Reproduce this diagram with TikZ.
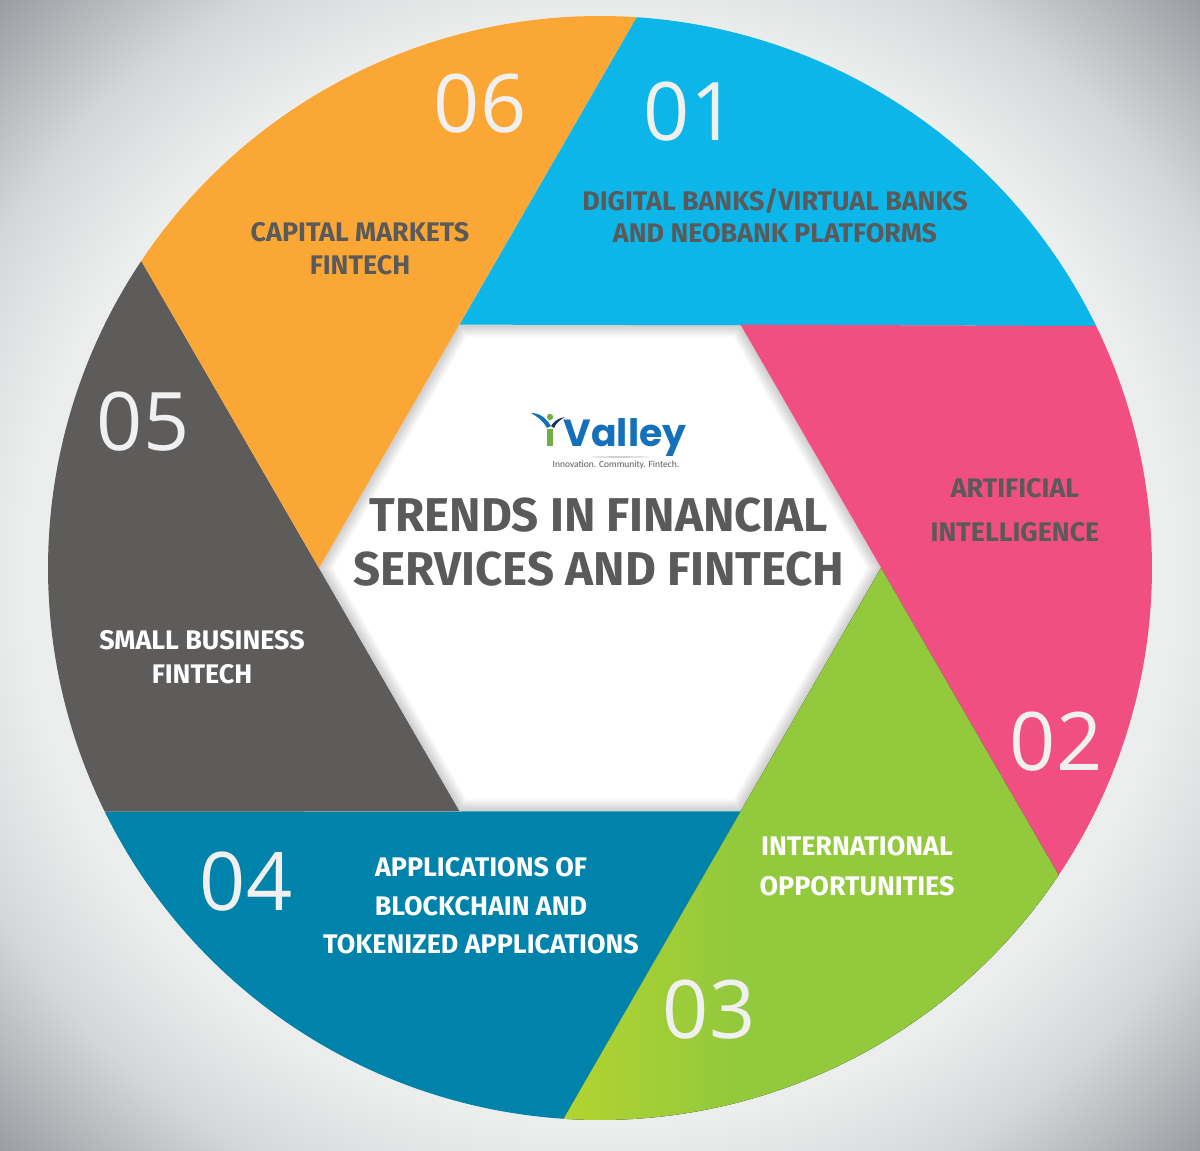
\documentclass[tikz,border=0pt]{standalone}
\usepackage{fontspec}
\setmainfont{Fira Sans}
\newfontfamily\numfont{Open Sans}
\newfontfamily\logofont{Poppins}
\newfontfamily\tagfont{Carlito}
\usetikzlibrary{positioning}
\definecolor{bankblue}{HTML}{0DB6E8}
\definecolor{aipink}{HTML}{F14E82}
\definecolor{tradegreen}{HTML}{93C93C}
\definecolor{tradeyellow}{HTML}{B2D430}
\definecolor{chainblue}{HTML}{0083AB}
\definecolor{smallgrey}{HTML}{5E5C5B}
\definecolor{caporange}{HTML}{FBA735}
\definecolor{textgrey}{HTML}{5A5A5A}
\definecolor{logoblue}{HTML}{1470B8}
\definecolor{logonavy}{HTML}{1B2F6E}
\definecolor{logogreen}{HTML}{6FB044}
\definecolor{backa}{HTML}{EFF1F1}
\definecolor{backb}{HTML}{ECEEEE}
\definecolor{backc}{HTML}{D4D6D8}
\definecolor{backd}{HTML}{9B9CA2}
\pgfdeclareradialshading{backdrop}{\pgfpoint{0bp}{0bp}}{
  color(0bp)=(backa);
  color(24bp)=(backb);
  color(29bp)=(backc);
  color(35.5bp)=(backd);
  color(50bp)=(backd)}
\pgfdeclarehorizontalshading{tradefade}{100bp}{
  color(0bp)=(tradeyellow);
  color(25bp)=(tradeyellow);
  color(42bp)=(tradegreen);
  color(100bp)=(tradegreen)}
\begin{document}
\begin{tikzpicture}[x=0.02cm,y=0.02cm,
  label/.style={font=\bfseries\fontsize{15.3}{18}\selectfont,align=center,inner sep=0pt},
  darklabel/.style={label,text=textgrey},
  whitelabel/.style={label,text=white},
  number/.style={font=\numfont\fontsize{46}{50}\selectfont,text=white!94!black,inner sep=0pt}]
  \useasboundingbox (-600,-583) rectangle (600,568);
  \fill[shading=backdrop] (-600,-583) rectangle (600,568);
  \coordinate (hexa) at (60:281);
  \coordinate (hexb) at (120:281);
  \coordinate (hexc) at (180:281);
  \coordinate (hexd) at (240:281);
  \coordinate (hexe) at (300:281);
  \coordinate (hexf) at (0:281);
  \fill[white] (hexa) -- (hexb) -- (hexc) -- (hexd) -- (hexe) -- (hexf) -- cycle;
  \begin{scope}
    \clip (hexa) -- (hexb) -- (hexc) -- (hexd) -- (hexe) -- (hexf) -- cycle;
    \foreach \w in {4,8,...,24}
      \draw[black,opacity=0.03,line width=\w*0.02cm,line join=round]
        (hexa) -- (hexb) -- (hexc) -- (hexd) -- (hexe) -- (hexf) -- cycle;
  \end{scope}
  \fill[bankblue] (hexb) -- (86.2:552) arc[start angle=86.2,end angle=26,radius=552] -- cycle;
  \fill[aipink] (hexa) -- (26:552) arc[start angle=26,end angle=-33.8,radius=552] -- cycle;
  \fill[shading=tradefade] (hexf) -- (-33.8:552) arc[start angle=-33.8,end angle=-93.8,radius=552] -- cycle;
  \fill[chainblue] (hexe) -- (-93.8:552) arc[start angle=-93.8,end angle=-153.8,radius=552] -- cycle;
  \fill[smallgrey] (hexd) -- (206.2:552) arc[start angle=206.2,end angle=146.2,radius=552] -- cycle;
  \fill[caporange] (hexc) -- (146.2:552) arc[start angle=146.2,end angle=86.2,radius=552] -- cycle;
  \node[number] (num1) at (90,456) {01};
  \node[number] (num2) at (456,-174) {02};
  \node[number] (num3) at (109,-442) {03};
  \node[number] (num4) at (-354,-314) {04};
  \node[number] (num5) at (-457,146) {05};
  \node[number] (num6) at (-120,464) {06};
  \node[darklabel] (banks) at (175,352) {DIGITAL BANKS/VIRTUAL BANKS\\AND NEOBANK PLATFORMS};
  \node[darklabel] (ai) at (415,58) {ARTIFICIAL\\[7pt]INTELLIGENCE};
  \node[whitelabel] (intl) at (257,-298) {INTERNATIONAL\\[4.7pt]OPPORTUNITIES};
  \node[whitelabel] (chain) at (-119,-338) {APPLICATIONS OF\\[4pt]BLOCKCHAIN AND\\[4pt]TOKENIZED APPLICATIONS};
  \node[whitelabel] (small) at (-398,-89) {SMALL BUSINESS\\[1.3pt]FINTECH};
  \node[darklabel] (capital) at (-240,319) {CAPITAL MARKETS\\[.7pt]FINTECH};
  \node[font=\bfseries\fontsize{27}{31}\selectfont,align=center,inner sep=0pt,text=textgrey] (title) at (-1,26)
    {TRENDS IN FINANCIAL\\SERVICES AND FINTECH};
  \fill[logoblue] (-69,155) .. controls (-60,155) and (-54,150) .. (-49,142) -- (-53,140)
    .. controls (-57,147) and (-62,151) .. cycle;
  \fill[logonavy] (-35,151) .. controls (-41,150) and (-46,147) .. (-49,142) -- (-46,140)
    .. controls (-44,145) and (-40,148) .. cycle;
  \fill[logogreen] (-50,151) circle (3.2);
  \fill[logogreen] (-53,139) rectangle (-47,122);
  \node[font=\logofont\bfseries\fontsize{21.5}{22}\selectfont,text=logoblue,inner sep=0pt] (logo) at (25,130) {Valley};
  \fill[black!18] (20,111) ellipse (30 and 0.8);
  \node[font=\tagfont\fontsize{5.4}{7}\selectfont,text=textgrey,inner sep=0pt] (motto) at (16,103)
    {Innovation. Community. Fintech.};
\end{tikzpicture}
\end{document}
